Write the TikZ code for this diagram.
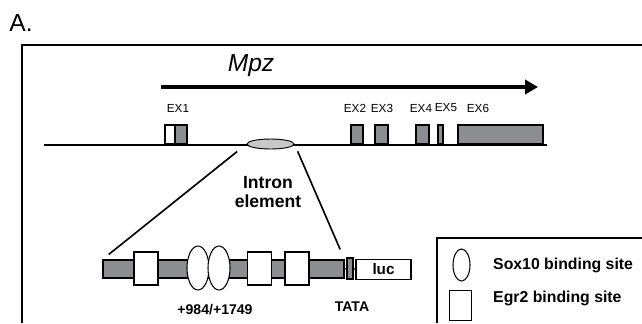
\documentclass[tikz,border=0pt]{standalone}
\usepackage{fontspec}
\setmainfont{Liberation Sans}
\usetikzlibrary{arrows.meta,shapes.geometric}
\definecolor{exgray}{RGB}{140,141,145}
\definecolor{intgray}{RGB}{200,200,202}

\begin{document}
\begin{tikzpicture}[x=0.03cm,y=-0.03cm,
  box/.style={draw,line width=0.9pt,rectangle,inner sep=0pt},
  exon/.style={box,fill=exgray,minimum height=19*0.03cm},
  egr/.style={box,fill=white,minimum width=24*0.03cm,minimum height=33*0.03cm},
  sox/.style={draw,line width=0.9pt,fill=white,ellipse,inner sep=0pt,
    minimum width=22*0.03cm,minimum height=44*0.03cm},
  exlab/.style={font=\fontsize{10}{12}\selectfont},
  boldlab/.style={font=\bfseries\fontsize{12}{14}\selectfont}]
\useasboundingbox (0,0) rectangle (642,323);

% panel letter and frame
\node (panel) at (21,23) {\fontsize{21}{24}\selectfont A.};
\draw[line width=2.5pt] (642,45) -- (22,45) -- (22,323);

% gene and direction of transcription
\node (gene) at (251,66) {\fontsize{21}{24}\selectfont\itshape Mpz};
\draw[line width=4pt,-{Triangle[length=11pt,width=12pt]}] (161,87) -- (538,87);
\draw[line width=1.1pt] (44,145) -- (547,145);

% exons
\node[box,fill=white,minimum width=10*0.03cm,minimum height=19*0.03cm] (ex1a) at (170,134.5) {};
\node[exon,minimum width=12*0.03cm] (ex1) at (181,134.5) {};
\node[exon,minimum width=12*0.03cm] (ex2) at (357,134.5) {};
\node[exon,minimum width=13*0.03cm] (ex3) at (381.5,134.5) {};
\node[exon,minimum width=13*0.03cm] (ex4) at (422.5,134.5) {};
\node[exon,minimum width=5*0.03cm] (ex5) at (440.5,134.5) {};
\node[exon,minimum width=85*0.03cm] (ex6) at (500.5,134.5) {};
\node[exlab] (l1) at (178,108) {EX1};
\node[exlab] (l2) at (355,108) {EX2};
\node[exlab] (l3) at (382,108) {EX3};
\node[exlab] (l4) at (421,108) {EX4};
\node[exlab] (l5) at (446,108) {EX5};
\node[exlab] (l6) at (478,108) {EX6};

% intron element and its enlargement
\node[draw,line width=0.8pt,fill=intgray,ellipse,inner sep=0pt,
  minimum width=47*0.03cm,minimum height=10*0.03cm] (intron) at (270.5,144) {};
\node[font=\bfseries\fontsize{15}{17}\selectfont,align=center] (inlab) at (268,192) {Intron\\element};

\node[box,fill=exgray,minimum width=241*0.03cm,minimum height=18*0.03cm] (bar) at (223.5,269) {};
\draw[line width=1.4pt,shorten <=12*0.03cm,shorten >=8*0.03cm] (intron.west) -- (bar.north west);
\draw[line width=1.4pt,shorten <=8*0.03cm,shorten >=11*0.03cm] (intron.east) -- (bar.north east);

\node[egr] (e1) at (146,268.5) {};
\node[sox] (s1) at (198,268) {};
\node[sox] (s2) at (219,268) {};
\node[egr] (e2) at (259.5,268.5) {};
\node[egr] (e3) at (297,268.5) {};

% promoter and reporter
\node[box,fill=exgray,minimum width=6*0.03cm,minimum height=21*0.03cm] (tata) at (350,268.5) {};
\node[box,fill=white,minimum width=55*0.03cm,minimum height=20*0.03cm,
  font=\bfseries\fontsize{13}{15}\selectfont] (luc) at (383.5,269.5) {luc};
\draw[line width=0.8pt] (bar.east) -- (tata.west);
\draw[line width=0.8pt] (tata.east) -- (luc.west);

\node[boldlab] (pos) at (215,310) {+984/+1749};
\node[boldlab] (tatalab) at (352,307) {TATA};

% legend
\draw[line width=2.2pt] (642,238) -- (437,238) -- (437,323);
\node[draw,line width=0.9pt,ellipse,inner sep=0pt,
  minimum width=17*0.03cm,minimum height=32*0.03cm] (keysox) at (461.5,265) {};
\node[box,minimum width=22*0.03cm,minimum height=30*0.03cm] (keyegr) at (460.5,305.5) {};
\node[anchor=west,inner sep=0pt,font=\bfseries\fontsize{13.5}{16}\selectfont] (soxlab) at (493,265) {Sox10 binding site};
\node[anchor=west,inner sep=0pt,font=\bfseries\fontsize{13.5}{16}\selectfont] (egrlab) at (493,298) {Egr2 binding site};
\end{tikzpicture}
\end{document}
